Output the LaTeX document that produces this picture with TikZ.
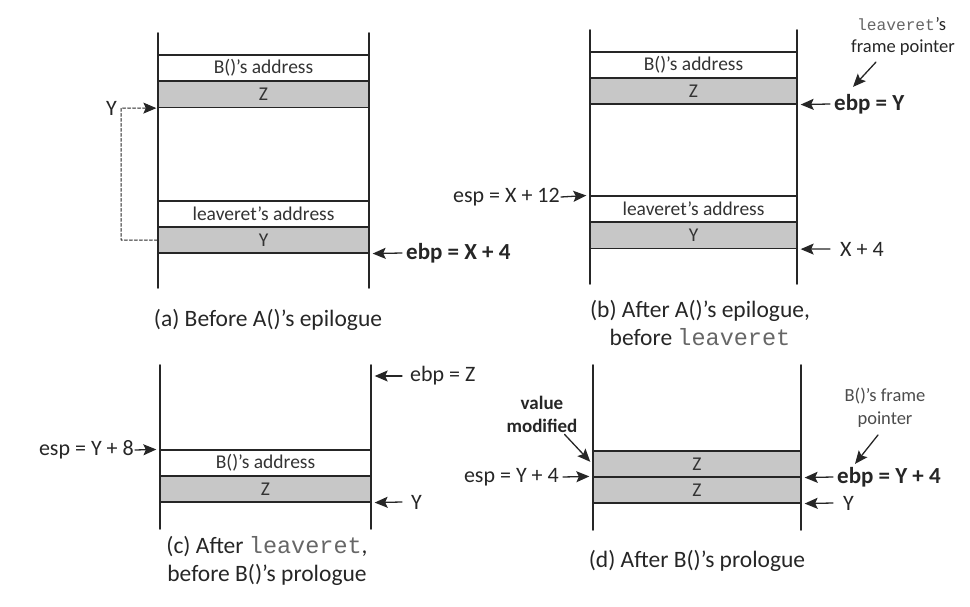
\documentclass[tikz,border=0pt]{standalone}
\usepackage{graphicx}
\usepackage{fontspec}
\setmainfont{Carlito}
\setmonofont{Liberation Mono}
\newfontfamily\lvmono{Liberation Mono}
\usetikzlibrary{arrows.meta,positioning}

\definecolor{rowgray}{gray}{0.78}
\definecolor{ink}{gray}{0.15}
\newcommand{\code}[1]{\textcolor{black!60}{{\lvmono #1}}}

\tikzset{
  cell/.style={draw=ink, line width=1.3pt, minimum width=#1, minimum height=26pt,
    inner sep=0pt, text=black!80, font=\fontsize{19.5}{21}\selectfont},
  zcell/.style={cell=#1, fill=rowgray},
  wall/.style={line width=1.8pt, ink},
  lbl/.style={inner sep=1pt, text=ink, font=\fontsize{22}{24}\selectfont},
  blbl/.style={lbl, font=\fontsize{23}{25}\selectfont\bfseries},
  note/.style={align=center, inner sep=1pt, text=black!70, font=\fontsize{18.5}{23}\selectfont},
  bnote/.style={note, text=ink, font=\fontsize{19}{23}\selectfont\bfseries},
  captxt/.style={align=center, inner sep=1pt, text=ink, font=\fontsize{23.5}{28}\selectfont},
  ptr/.style={-{Stealth[length=13pt,width=11pt,inset=2.5pt]}, line width=1.3pt, ink, shorten >=3pt},
  link/.style={-{Stealth[length=13pt,width=11pt,inset=2.5pt]}, line width=1pt, ink,
    dash pattern=on 3pt off 2pt, shorten >=1pt}
}

\begin{document}
\begin{tikzpicture}[x=1pt, y=-1pt, line cap=round, line join=round]
  \useasboundingbox (0,0) rectangle (970,607);

  % (a) before A()'s epilogue
  \node[cell=211]  (aB) at (263.5,68)  {B()'s address};
  \node[zcell=211] (aZ) at (263.5,94.5) {Z};
  \node[cell=211]  (aL) at (263.5,214) {leaveret's address};
  \node[zcell=211] (aY) at (263.5,240) {Y};
  \draw[wall] (158,33) -- (158,288);
  \draw[wall] (369,33) -- (369,288);

  \node[lbl, anchor=east, inner xsep=4pt] (ylab) at (121,108) {Y};
  \draw[link] (aY.west) -| (ylab.east) -- (aZ.south west);
  \node[blbl, anchor=west, inner xsep=4pt] (ebpa) at (402,253) {ebp = X + 4};
  \draw[ptr] (ebpa.west) -- (aY.south east);

  \node[captxt] (capa) at (268,320) {(a) Before A()'s epilogue};

  % (b) after A()'s epilogue
  \node[cell=207]  (bB) at (693.5,65)  {B()'s address};
  \node[zcell=207] (bZ) at (693.5,91)  {Z};
  \node[cell=207]  (bL) at (693.5,209) {leaveret's address};
  \node[zcell=207] (bY) at (693.5,235.5) {Y};
  \draw[wall] (590,30) -- (590,284);
  \draw[wall] (797,30) -- (797,284);

  \node[lbl, anchor=east] (espb) at (561,197) {esp = X + 12};
  \draw[ptr] (espb.east) -- (bL.north west);
  \node[blbl, anchor=west, inner xsep=4pt] (ebpb) at (830,104) {ebp = Y};
  \draw[ptr] (ebpb.west) -- (bZ.south east);
  \node[lbl, anchor=west, inner xsep=10pt] (x4b) at (830,249) {X + 4};
  \draw[ptr] (x4b.west) -- (bY.south east);
  \node[captxt, inner sep=0pt] (lvb) at (896,25) {\resizebox{78pt}{!}{\code{leaveret}}};
  \node[note, text=ink, inner sep=0pt, anchor=base west] (lvs) at (lvb.base east) {'s};
  \node[note, text=ink] (fpb) at (903,48) {frame pointer};
  \draw[ptr, shorten >=0pt] ([shift={(-27,5)}]fpb.south) -- ([shift={(23,-6)}]ebpb.north west);

  \node[captxt] (capb) at (700,323) {(b) After A()'s epilogue,\\before \code{leaveret}};

  % (c) after leaveret
  \node[cell=211]  (cB) at (265.5,463) {B()'s address};
  \node[zcell=211] (cZ) at (265.5,489) {Z};
  \draw[wall] (160,365) -- (160,529);
  \draw[wall] (371,365) -- (371,529);

  \node[lbl, anchor=east] (espc) at (135,450) {esp = Y + 8};
  \draw[ptr] (espc.east) -- (cB.north west);
  \node[lbl, anchor=west, inner xsep=8pt] (ebpc) at (402,376) {ebp = Z};
  \draw[ptr] (ebpc.west) -- (ebpc.west -| cB.east);
  \node[lbl, anchor=west, inner xsep=9pt] (yc) at (402,502) {Y};
  \draw[ptr] (yc.west) -- (cZ.south east);

  \node[captxt] (capc) at (267,561) {(c) After \code{leaveret},\\before B()'s prologue};

  % (d) after B()'s prologue
  \node[zcell=208] (dZa) at (697,464) {Z};
  \node[zcell=208] (dZb) at (697,490) {Z};
  \draw[wall] (593,365) -- (593,530);
  \draw[wall] (801,365) -- (801,530);

  \node[bnote] (vm) at (542,414) {value\\modified};
  \draw[ptr] ([shift={(-14,1)}]vm.south east) -- (dZa.west);
  \node[lbl, anchor=east, inner xsep=4pt] (espd) at (563,477) {esp = Y + 4};
  \draw[ptr] (espd.east) -- (dZb.north west);
  \node[blbl, anchor=west, inner xsep=4pt] (ebpd) at (833,477) {ebp = Y + 4};
  \draw[ptr] (ebpd.west) -- (dZa.south east);
  \node[lbl, anchor=west, inner xsep=10pt] (yd) at (833,503) {Y};
  \draw[ptr] (yd.west) -- (dZb.south east);
  \node[note] (fpd) at (885,408) {B()'s frame\\pointer};
  \draw[ptr, shorten >=0pt] ([shift={(-7,6)}]fpd.south) -- ([shift={(22,-2)}]ebpd.north west);

  \node[captxt] (capd) at (697,561) {(d) After B()'s prologue};
\end{tikzpicture}
\end{document}
